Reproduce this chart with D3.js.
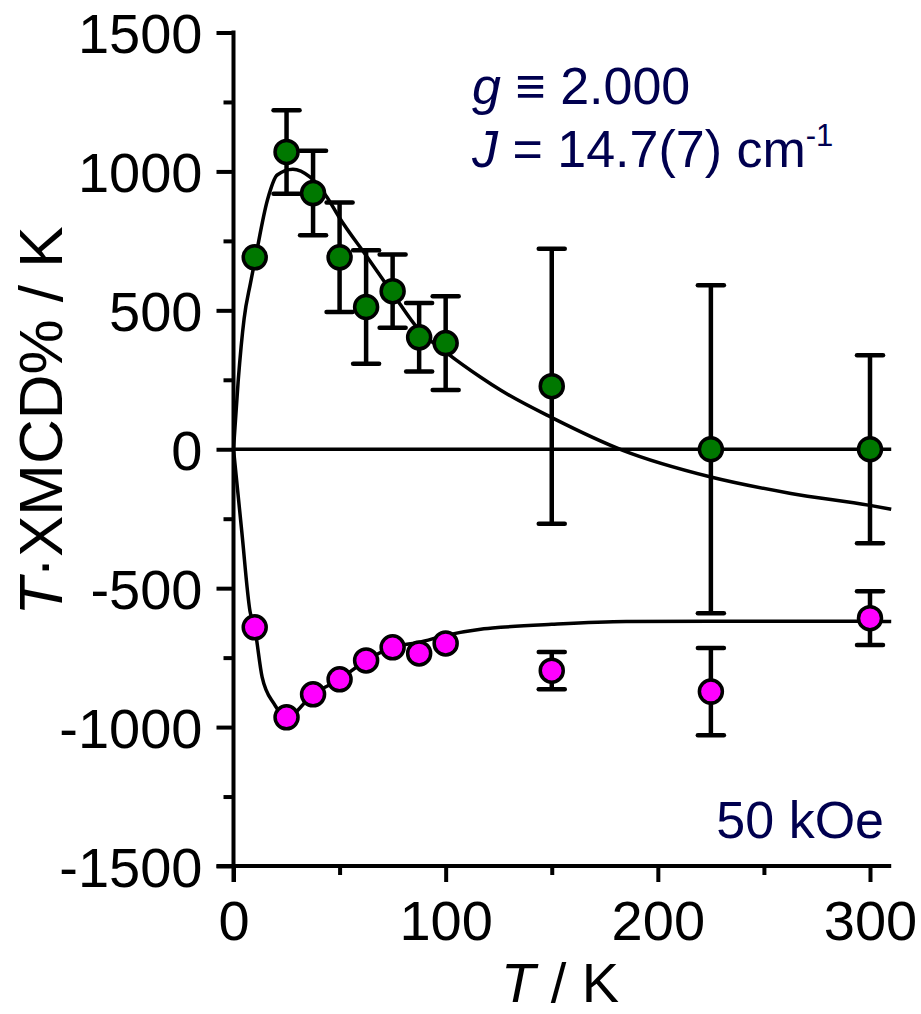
<!DOCTYPE html>
<html><head><meta charset="utf-8">
<script src="https://cdn.jsdelivr.net/npm/d3@7"></script>
<style>body{margin:0;background:#fff}svg{display:block}</style>
</head><body>
<script>
// Data
const temps = [10, 25, 37.5, 50, 62.5, 75, 87.5, 100, 150, 225, 300];
const greenVals = [691, 1070, 922, 691, 512, 569, 403, 382, 227, 0, 0];
const greenErr  = [null, 150, 152, 197, 204, 132, 123, 169, 495, 590, 338];
const magentaVals = [-641, -965, -882, -828, -760, -713, -735, -699, -797, -872, -608];
const magentaErr  = [null, null, null, null, null, null, null, null, 67, 157, 97];
const greenFitT = [0, 2.2, 5, 8, 10.4, 16, 20.6, 28, 36, 44, 49.7, 63, 75, 87.6, 100.8, 116.5, 126, 150.5, 183.5, 225, 262.7, 300, 310];
const greenFitV = [0, 245, 470, 598, 691, 897, 987, 1008, 980, 908, 836, 692, 561, 428, 345, 259, 212, 112, -4, -100, -159, -202, -216];
const magentaFitT = [0, 3.9, 7.8, 10, 13.5, 19, 25, 37.5, 50, 62.5, 75, 87.5, 100, 116.5, 126, 150, 185, 225, 300, 310];
const magentaFitV = [0, -296, -584, -645, -820, -915, -965, -882, -828, -760, -713, -695, -670, -648, -641, -630, -620, -619, -619, -620];
const xMajor = [0, 100, 200, 300];
const xMinor = [50, 150, 250];
const yMajor = [-1500, -1000, -500, 0, 500, 1000, 1500];
const yMinor = [-1250, -750, -250, 250, 750, 1250];

const W = 921, H = 1014;
const svg = d3.select("body").append("svg").attr("width", W).attr("height", H);
const x = d3.scaleLinear().domain([0, 300]).range([233.5, 870]);
const y = d3.scaleLinear().domain([-1500, 1500]).range([866, 32.5]);
const font = "'Liberation Sans', Arial, sans-serif";
const navy = "#00004f";
const fmt = d => String(d);

// zero line
svg.append("line").attr("x1", x(0)).attr("x2", x(310)).attr("y1", y(0)).attr("y2", y(0))
  .attr("stroke", "#000").attr("stroke-width", 3.5);

// axes
function styleAxis(g) {
  g.select(".domain").remove();
  g.selectAll(".tick line").attr("stroke", "#000").attr("stroke-width", 4);
  g.selectAll(".tick text").attr("font-family", font).attr("font-size", 56).attr("fill", "#000");
}
const yAx = svg.append("g").attr("transform", `translate(${x(0)},0)`)
  .call(d3.axisLeft(y).tickValues(yMajor).tickSize(17).tickPadding(14).tickFormat(fmt));
styleAxis(yAx);
yAx.selectAll(".tick text").attr("dy", "0.36em");
const yAxm = svg.append("g").attr("transform", `translate(${x(0)},0)`)
  .call(d3.axisLeft(y).tickValues(yMinor).tickSize(10).tickFormat(""));
styleAxis(yAxm);
const xAx = svg.append("g").attr("transform", `translate(0,${y(-1500)})`)
  .call(d3.axisBottom(x).tickValues(xMajor).tickSize(16).tickPadding(18).tickFormat(fmt));
styleAxis(xAx);
const xAxm = svg.append("g").attr("transform", `translate(0,${y(-1500)})`)
  .call(d3.axisBottom(x).tickValues(xMinor).tickSize(9).tickFormat(""));
styleAxis(xAxm);
svg.append("line").attr("x1", x(0)).attr("x2", x(0)).attr("y1", y(1500) - 2).attr("y2", y(-1500) + 16)
  .attr("stroke", "#000").attr("stroke-width", 4);
svg.append("line").attr("x1", x(0) - 17).attr("x2", x(310)).attr("y1", y(-1500)).attr("y2", y(-1500))
  .attr("stroke", "#000").attr("stroke-width", 4);

// fit curves
const line = d3.line().x(d => x(d[0])).y(d => y(d[1])).curve(d3.curveMonotoneX);
svg.append("path").datum(greenFitT.map((t, i) => [t, greenFitV[i]])).attr("d", line)
  .attr("fill", "none").attr("stroke", "#000").attr("stroke-width", 3.5);
svg.append("path").datum(magentaFitT.map((t, i) => [t, magentaFitV[i]])).attr("d", line)
  .attr("fill", "none").attr("stroke", "#000").attr("stroke-width", 3.5);

// error bars + points
function series(vals, errs, fill) {
  const data = temps.map((t, i) => ({t, v: vals[i], e: errs[i]}));
  const eb = svg.append("g");
  data.filter(d => d.e != null).forEach(d => {
    eb.append("line").attr("x1", x(d.t)).attr("x2", x(d.t)).attr("y1", y(d.v + d.e)).attr("y2", y(d.v - d.e))
      .attr("stroke", "#000").attr("stroke-width", 4.5);
    [d.v + d.e, d.v - d.e].forEach(v => {
      eb.append("line").attr("x1", x(d.t) - 13).attr("x2", x(d.t) + 13).attr("y1", y(v)).attr("y2", y(v))
        .attr("stroke", "#000").attr("stroke-width", 4.5).attr("stroke-linecap", "round");
    });
  });
  svg.append("g").selectAll("circle").data(data).join("circle")
    .attr("cx", d => x(d.t)).attr("cy", d => y(d.v)).attr("r", 11.5)
    .attr("fill", fill).attr("stroke", "#000").attr("stroke-width", 3.5);
}
series(greenVals, greenErr, "#007800");
series(magentaVals, magentaErr, "#ff00ff");

// axis titles
const xt = svg.append("text").attr("x", 560).attr("y", 1002).attr("text-anchor", "middle")
  .attr("font-family", font).attr("font-size", 56).attr("fill", "#000");
xt.append("tspan").attr("font-style", "italic").text("T");
xt.append("tspan").text(" / K");
const yt = svg.append("text").attr("transform", "translate(62,421) rotate(-90)").attr("text-anchor", "middle")
  .attr("font-family", font).attr("font-size", 62).attr("fill", "#000");
yt.append("tspan").attr("font-style", "italic").text("T");
yt.append("tspan").text("·XMCD% / K");

// annotations
const a1 = svg.append("text").attr("x", 472).attr("y", 104).attr("font-family", font).attr("font-size", 52).attr("fill", navy);
a1.append("tspan").attr("font-style", "italic").text("g");
a1.append("tspan").text(" ≡ 2.000");
const a2 = svg.append("text").attr("x", 472).attr("y", 167).attr("font-family", font).attr("font-size", 52).attr("fill", navy);
a2.append("tspan").attr("font-style", "italic").text("J");
a2.append("tspan").text(" = 14.7(7) cm");
a2.append("tspan").attr("font-size", 31).attr("dy", -21).text("-1");
svg.append("text").attr("x", 884).attr("y", 838).attr("text-anchor", "end").attr("font-family", font)
  .attr("font-size", 52).attr("fill", navy).text("50 kOe");
</script>
</body></html>
